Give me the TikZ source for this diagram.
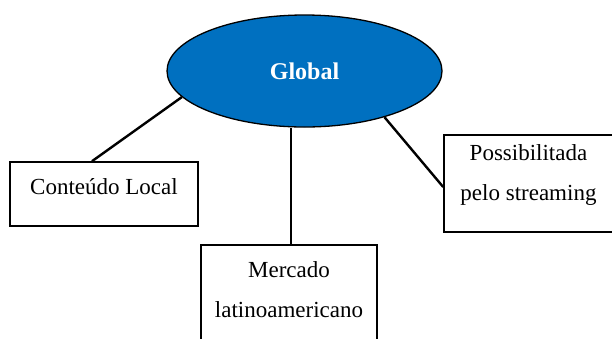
\documentclass[tikz,border=0pt]{standalone}
\usepackage{fontspec}
\setmainfont{Liberation Serif}
\usetikzlibrary{shapes.geometric}
\definecolor{gblue}{RGB}{0,112,192}
\tikzset{
  boxstyle/.style={draw=black, line width=1.6pt, rectangle, inner sep=0pt},
  txtstyle/.style={align=center, inner sep=0pt, font=\fontsize{23}{40}\selectfont},
  linkstyle/.style={draw=black, line width=2.4pt},
}
\begin{document}
\begin{tikzpicture}[x=1pt, y=-1pt]
\useasboundingbox (0,0) rectangle (612,338);
\node[ellipse, draw=black, line width=1.3pt, fill=gblue, minimum width=275pt, minimum height=112pt, inner sep=0pt,
      text=white, font=\bfseries\fontsize{24}{29}\selectfont] (g) at (304.5,71) {Global};
\node[boxstyle, minimum width=188pt, minimum height=64pt] (b1) at (104,194) {};
\node[boxstyle, minimum width=176pt, minimum height=98pt] (b2) at (289,294) {};
\node[boxstyle, minimum width=169pt, minimum height=97pt] (b3) at (528.5,183.5) {};
\node[txtstyle] (t1) at (104,187) {Conteúdo Local};
\node[txtstyle] (t2) at (289,290) {Mercado\\latinoamericano};
\node[txtstyle] (t3) at (528.5,175) {Possibilitada\\pelo streaming};
\draw[linkstyle] (g.192) -- ([xshift=-12pt]b1.north);
\coordinate (m2) at ([xshift=2pt]b2.north);
\draw[linkstyle] (m2) -- (m2 |- g.south);
\draw[linkstyle] (g.330) -- ([yshift=-3.5pt]b3.west);
\end{tikzpicture}
\end{document}
